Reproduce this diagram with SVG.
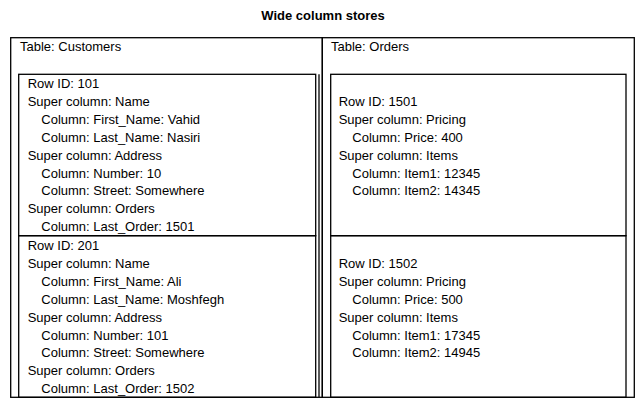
<svg xmlns="http://www.w3.org/2000/svg" width="644" height="408" viewBox="0 0 644 408">
<style>
text{font-family:"Liberation Sans",Arial,sans-serif;font-size:13px;fill:#000}
.title{font-weight:bold;text-anchor:middle}
.box{fill:none;stroke:#000;stroke-width:1.3}
.ln{stroke:#000;stroke-width:1.3}
</style>
<rect width="644" height="408" fill="#fff"/>
<text class="title" x="323" y="20">Wide column stores</text>
<g id="customers">
<rect class="box" x="10.7" y="37.7" width="311.6" height="359.6"/>
<line class="ln" x1="319" y1="74.3" x2="319" y2="397.3"/>
<text x="20" y="51">Table: Customers</text>
</g>
<g id="orders">
<rect class="box" x="322.3" y="37.7" width="312" height="359.6"/>
<text x="331" y="51">Table: Orders</text>
</g>
<g id="row101">
<rect class="box" x="18.7" y="74.3" width="297" height="161.4"/>
<text x="27.7" y="88">Row ID: 101</text>
<text x="27.7" y="105.9">Super column: Name</text>
<text x="41.3" y="123.8">Column: First_Name: Vahid</text>
<text x="41.3" y="141.7">Column: Last_Name: Nasiri</text>
<text x="27.7" y="159.6">Super column: Address</text>
<text x="41.3" y="177.5">Column: Number: 10</text>
<text x="41.3" y="195.4">Column: Street: Somewhere</text>
<text x="27.7" y="213.3">Super column: Orders</text>
<text x="41.3" y="231.2">Column: Last_Order: 1501</text>
</g>
<g id="row201">
<rect class="box" x="18.7" y="235.7" width="297" height="161.6"/>
<text x="27.7" y="250">Row ID: 201</text>
<text x="27.7" y="267.9">Super column: Name</text>
<text x="41.3" y="285.8">Column: First_Name: Ali</text>
<text x="41.3" y="303.7">Column: Last_Name: Moshfegh</text>
<text x="27.7" y="321.6">Super column: Address</text>
<text x="41.3" y="339.5">Column: Number: 101</text>
<text x="41.3" y="357.4">Column: Street: Somewhere</text>
<text x="27.7" y="375.3">Super column: Orders</text>
<text x="41.3" y="393.2">Column: Last_Order: 1502</text>
</g>
<g id="row1501">
<rect class="box" x="330.7" y="74.3" width="295.3" height="161.4"/>
<text x="338.7" y="105.9">Row ID: 1501</text>
<text x="338.7" y="123.8">Super column: Pricing</text>
<text x="352.3" y="141.7">Column: Price: 400</text>
<text x="338.7" y="159.6">Super column: Items</text>
<text x="352.3" y="177.5">Column: Item1: 12345</text>
<text x="352.3" y="195.4">Column: Item2: 14345</text>
</g>
<g id="row1502">
<rect class="box" x="330.7" y="235.7" width="295.3" height="161.6"/>
<text x="338.7" y="267.9">Row ID: 1502</text>
<text x="338.7" y="285.8">Super column: Pricing</text>
<text x="352.3" y="303.7">Column: Price: 500</text>
<text x="338.7" y="321.6">Super column: Items</text>
<text x="352.3" y="339.5">Column: Item1: 17345</text>
<text x="352.3" y="357.4">Column: Item2: 14945</text>
</g>
<g id="connectors"></g>
</svg>
